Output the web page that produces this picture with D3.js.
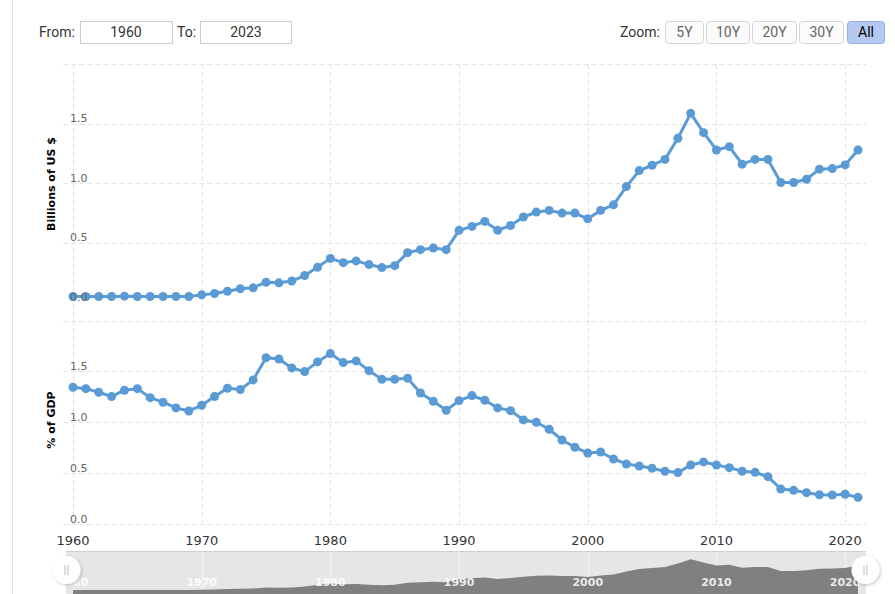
<!DOCTYPE html>
<html>
<head>
<meta charset="utf-8">
<script src="https://cdn.jsdelivr.net/npm/d3@7"></script>
<style>
  html, body { margin: 0; padding: 0; background: #fff; }
  svg { display: block; }
</style>
</head>
<body>
<script>
var years = [1960,1961,1962,1963,1964,1965,1966,1967,1968,1969,
  1970,1971,1972,1973,1974,1975,1976,1977,1978,1979,
  1980,1981,1982,1983,1984,1985,1986,1987,1988,1989,
  1990,1991,1992,1993,1994,1995,1996,1997,1998,1999,
  2000,2001,2002,2003,2004,2005,2006,2007,2008,2009,
  2010,2011,2012,2013,2014,2015,2016,2017,2018,2019,
  2020,2021];

// billions of US $
var billions = [0.05,0.05,0.05,0.05,0.053,0.05,0.05,0.05,0.05,0.05,
  0.064,0.075,0.094,0.115,0.123,0.17,0.165,0.18,0.226,0.295,
  0.37,0.334,0.349,0.318,0.293,0.309,0.418,0.443,0.457,0.443,
  0.605,0.638,0.68,0.605,0.646,0.717,0.758,0.772,0.75,0.75,
  0.702,0.772,0.819,0.972,1.106,1.151,1.2,1.377,1.586,1.424,
  1.279,1.307,1.16,1.2,1.2,1.006,1.006,1.034,1.118,1.123,
  1.154,1.279];

// % of GDP
var pctGdp = [1.344,1.33,1.295,1.252,1.315,1.33,1.242,1.197,1.141,1.111,
  1.167,1.252,1.334,1.321,1.416,1.635,1.622,1.534,1.498,1.593,
  1.675,1.586,1.603,1.507,1.423,1.423,1.433,1.288,1.206,1.118,
  1.212,1.262,1.216,1.141,1.114,1.023,1.0,0.931,0.826,0.754,
  0.698,0.708,0.639,0.59,0.57,0.547,0.518,0.505,0.58,0.61,
  0.58,0.554,0.518,0.508,0.465,0.344,0.331,0.308,0.288,0.285,
  0.292,0.262];

var yearTicks = [1960,1970,1980,1990,2000,2010,2020];
var valueTicks = [0, 0.5, 1.0, 1.5];
var gridTicks = [0, 0.5, 1.0, 1.5, 2.0];
var zoomButtons = ["5Y","10Y","20Y","30Y","All"];

var W = 895, H = 594;
var lineColor = "#5b9bd5";
var gridColor = "#e3e3e3";
var tickFont = "DejaVu Sans, Verdana, sans-serif";
var uiFont = "Roboto, Arial, sans-serif";

var svg = d3.select("body").append("svg")
  .attr("width", W)
  .attr("height", H);

var defs = svg.append("defs");
var shadow = defs.append("filter").attr("id", "shadow")
  .attr("x", "-50%").attr("y", "-50%").attr("width", "200%").attr("height", "200%");
shadow.append("feDropShadow")
  .attr("dx", 1).attr("dy", 1).attr("stdDeviation", 1.5)
  .attr("flood-color", "#000").attr("flood-opacity", 0.25);

// left border line
svg.append("line")
  .attr("x1", 12.5).attr("x2", 12.5).attr("y1", 0).attr("y2", H)
  .attr("stroke", "#e2e2e2");

// ---- range selector ----
var bar = svg.append("g").attr("font-family", uiFont).attr("font-size", 14);
bar.append("text").attr("x", 39).attr("y", 37).attr("fill", "#333").text("From:");
bar.append("rect").attr("x", 80.5).attr("y", 21.5).attr("width", 92).attr("height", 22)
  .attr("fill", "#fff").attr("stroke", "#ccc");
bar.append("text").attr("x", 126).attr("y", 37).attr("text-anchor", "middle").attr("fill", "#333").text("1960");
bar.append("text").attr("x", 177).attr("y", 37).attr("fill", "#333").text("To:");
bar.append("rect").attr("x", 200.5).attr("y", 21.5).attr("width", 91).attr("height", 22)
  .attr("fill", "#fff").attr("stroke", "#ccc");
bar.append("text").attr("x", 246).attr("y", 37).attr("text-anchor", "middle").attr("fill", "#333").text("2023");
bar.append("text").attr("x", 660).attr("y", 37).attr("text-anchor", "end").attr("fill", "#333").text("Zoom:");

var btnX = [665, 706, 752, 799, 847];
var btnW = [38, 43, 44, 44, 37];
var btn = bar.selectAll("g.btn").data(zoomButtons).enter().append("g")
  .attr("class", "btn")
  .attr("transform", function(d, i) { return "translate(" + btnX[i] + ",21)"; });
btn.append("rect")
  .attr("x", 0.5).attr("y", 0.5).attr("rx", 3)
  .attr("width", function(d, i) { return btnW[i]; })
  .attr("height", 22)
  .attr("fill", function(d) { return d == "All" ? "#b6c9f2" : "#fbfbfb"; })
  .attr("stroke", function(d) { return d == "All" ? "#93aee8" : "#d6d6d6"; });
btn.append("text")
  .attr("x", function(d, i) { return btnW[i] / 2 + 0.5; })
  .attr("y", 16)
  .attr("text-anchor", "middle")
  .attr("fill", function(d) { return d == "All" ? "#000" : "#666"; })
  .text(function(d) { return d; });

// ---- scales ----
var x = d3.scaleLinear().domain([1960, 2021]).range([73, 858]);
var yTop = d3.scaleLinear().domain([0, 2]).range([302.5, 64]);
var yBot = d3.scaleLinear().domain([0, 2]).range([524, 320.5]);
var plotLeft = 63, plotRight = 866;

// vertical grid (shared x axis)
svg.append("g").selectAll("line").data(yearTicks).enter().append("line")
  .attr("x1", function(d) { return Math.round(x(d)) + 0.5; })
  .attr("x2", function(d) { return Math.round(x(d)) + 0.5; })
  .attr("y1", 64).attr("y2", 524)
  .attr("stroke", gridColor).attr("stroke-dasharray", "5,3");

function drawGrid(y, grid) {
  svg.append("g").selectAll("line").data(grid).enter().append("line")
    .attr("x1", plotLeft).attr("x2", plotRight)
    .attr("y1", function(d) { return Math.round(y(d)) + 0.5; })
    .attr("y2", function(d) { return Math.round(y(d)) + 0.5; })
    .attr("stroke", gridColor).attr("stroke-dasharray", "5,3");
}

function drawLabels(y) {
  svg.append("g").selectAll("text").data(valueTicks).enter().append("text")
    .attr("x", 70)
    .attr("y", function(d) { return y(d) - 1.5; })
    .attr("font-family", tickFont).attr("font-size", 11)
    .attr("fill", "#666")
    .text(function(d) { return d.toFixed(1); });
}

function drawSeries(y, values) {
  var pts = years.map(function(yr, i) { return [yr, values[i]]; });
  var line = d3.line()
    .x(function(d) { return x(d[0]); })
    .y(function(d) { return y(d[1]); });
  svg.append("path")
    .datum(pts)
    .attr("d", line)
    .attr("fill", "none")
    .attr("stroke", lineColor)
    .attr("stroke-width", 3)
    .attr("stroke-linejoin", "round");
  svg.append("g").selectAll("circle").data(pts).enter().append("circle")
    .attr("cx", function(d) { return x(d[0]); })
    .attr("cy", function(d) { return y(d[1]); })
    .attr("r", 4.5)
    .attr("fill", lineColor);
}

// upper pane has no gridline at 0
drawGrid(yTop, gridTicks.slice(1));
drawGrid(yBot, gridTicks);
drawSeries(yTop, billions);
drawSeries(yBot, pctGdp);
// tick labels sit on top of the series
drawLabels(yTop);
drawLabels(yBot);

// axis titles
svg.append("text")
  .attr("transform", "translate(55,184) rotate(-90)")
  .attr("text-anchor", "middle")
  .attr("font-family", tickFont).attr("font-size", 11).attr("font-weight", "bold")
  .attr("fill", "#000")
  .text("Billions of US $");
svg.append("text")
  .attr("transform", "translate(55,420) rotate(-90)")
  .attr("text-anchor", "middle")
  .attr("font-family", tickFont).attr("font-size", 11).attr("font-weight", "bold")
  .attr("fill", "#000")
  .text("% of GDP");

// x axis labels
svg.append("g").selectAll("text").data(yearTicks).enter().append("text")
  .attr("x", function(d) { return x(d); })
  .attr("y", 545)
  .attr("text-anchor", "middle")
  .attr("font-family", tickFont).attr("font-size", 13)
  .attr("fill", "#333")
  .text(function(d) { return d; });

// ---- navigator ----
var navY = d3.scaleLinear().domain([0, 1.6]).range([591, 559]);
var nav = svg.append("g");
nav.append("rect")
  .attr("x", 66).attr("y", 551).attr("width", 800).attr("height", 50)
  .attr("fill", "#e6e6e6");
nav.append("line")
  .attr("x1", 66).attr("x2", 866).attr("y1", 551.5).attr("y2", 551.5)
  .attr("stroke", "#d0d0d0");
nav.selectAll("line.vg").data(yearTicks).enter().append("line")
  .attr("class", "vg")
  .attr("x1", function(d) { return Math.round(x(d)) + 0.5; })
  .attr("x2", function(d) { return Math.round(x(d)) + 0.5; })
  .attr("y1", 552).attr("y2", H)
  .attr("stroke", "#f2f2f2");

var area = d3.area()
  .x(function(d, i) { return x(years[i]); })
  .y0(H + 10)
  .y1(function(d) { return navY(d); });
nav.append("path")
  .datum(billions)
  .attr("d", area)
  .attr("fill", "#808080");

nav.selectAll("text").data(yearTicks).enter().append("text")
  .attr("x", function(d) { return x(d); })
  .attr("y", 586)
  .attr("text-anchor", "middle")
  .attr("font-family", tickFont).attr("font-size", 11).attr("font-weight", "bold")
  .attr("fill", "#fff").attr("fill-opacity", 0.85)
  .text(function(d) { return d; });

// handles
var handles = nav.selectAll("g.handle").data([66.5, 865.5]).enter().append("g")
  .attr("class", "handle")
  .attr("transform", function(d) { return "translate(" + d + ",570)"; });
handles.append("circle")
  .attr("r", 14)
  .attr("fill", "#fff")
  .attr("filter", "url(#shadow)");
handles.append("path")
  .attr("d", "M-1.5,-5V5M1.5,-5V5")
  .attr("stroke", "#bbb").attr("stroke-width", 1);
</script>
</body>
</html>
